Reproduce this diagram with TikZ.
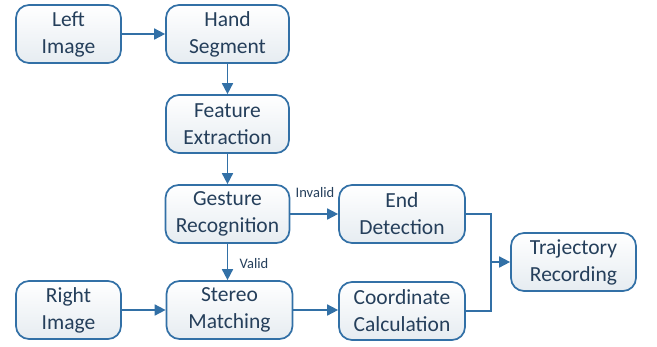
\documentclass[tikz,border=0pt]{standalone}
\usepackage{fontspec}
\setmainfont{Carlito}
\usetikzlibrary{arrows.meta}
\definecolor{bordc}{HTML}{3270A6}
\definecolor{txtc}{HTML}{253F5B}
\definecolor{botc}{HTML}{E6ECF1}
\begin{document}
\begin{tikzpicture}[x=1pt,y=-1pt,
  box/.style={draw=bordc, line width=1.7pt, rounded corners=13pt, top color=white, bottom color=botc,
    minimum height=58pt, inner sep=0pt, align=center, text=txtc,
    font=\fontsize{21.5}{27}\selectfont},
  conn/.style={draw=bordc, line width=1.7pt},
  arr/.style={conn, -{Triangle[length=11pt,width=11pt]}},
  lbl/.style={text=txtc, font=\fontsize{14.5}{16}\selectfont, inner sep=0pt}]
\useasboundingbox (0,0) rectangle (657,346);
\node[box, minimum width=105pt] (li) at (68.5,34) {Left\\Image};
\node[box, minimum width=123pt] (hs) at (227.5,34) {Hand\\Segment};
\node[box, minimum width=123pt] (fe) at (227.5,124) {Feature\\Extraction};
\node[box, minimum width=124pt] (gr) at (227.5,214) {Gesture\\Recognition};
\node[box, minimum width=126pt] (sm) at (229.5,310) {Stereo\\Matching};
\node[box, minimum width=105pt] (ri) at (68.5,310) {Right\\Image};
\node[box, minimum width=126pt] (ed) at (402,214) {End\\Detection};
\node[box, minimum width=126pt] (cc) at (402,311) {Coordinate\\Calculation};
\node[box, minimum width=125pt] (tr) at (573.5,262) {Trajectory\\Recording};
\coordinate (mj) at (491,262);
\draw[arr] (li.east) -- (hs.west);
\draw[arr] (hs.south) -- (fe.north);
\draw[arr] (fe.south) -- (gr.north);
\draw[arr] (gr.east) -- (ed.west);
\draw[arr] (gr.south) -- (gr.south |- sm.north);
\draw[arr] (ri.east) -- (sm.west |- ri.east);
\draw[arr] (sm.east) -- (cc.west |- sm.east);
\draw[conn] (ed.east) -| (mj) |- (cc.east);
\draw[arr] (mj) -- (tr.west);
\node[lbl] (inv) at (315,193) {Invalid};
\node[lbl] (val) at (254,264) {Valid};
\end{tikzpicture}
\end{document}
